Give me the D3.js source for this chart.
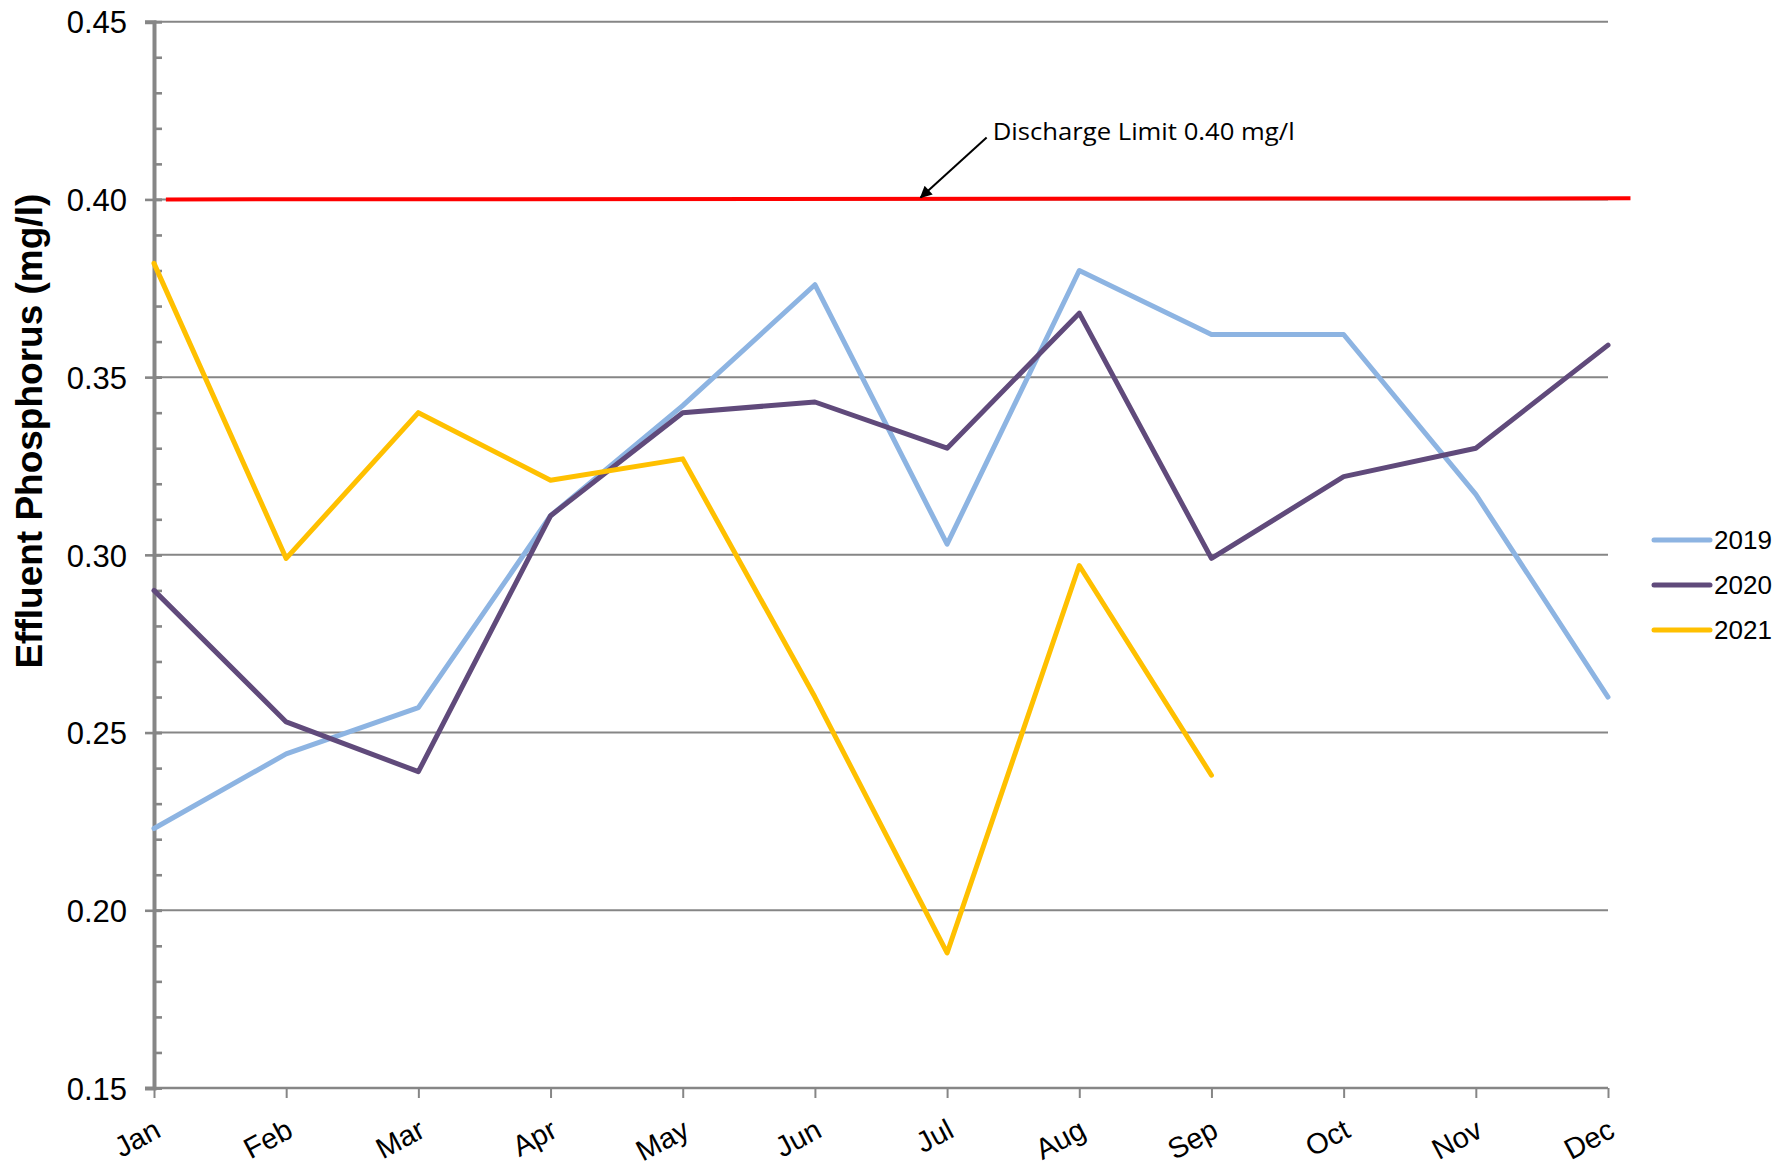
<!DOCTYPE html>
<html>
<head>
<meta charset="utf-8">
<script src="https://cdn.jsdelivr.net/npm/d3@7"></script>
<style>
  body { margin: 0; background: #fff; }
  svg { display: block; }
  .tick-label { font-family: "Liberation Sans", Arial, sans-serif; fill: #000; }
</style>
</head>
<body>
<div id="vis1"></div>
<script>
/*
effluent phosphorus chart
*/

const FRAME_WIDTH = 1791;
const FRAME_HEIGHT = 1170;
const MARGINS = {left: 154, right: 183, top: 21.7, bottom: 82};

// data
const months = ["Jan", "Feb", "Mar", "Apr", "May", "Jun", "Jul", "Aug", "Sep", "Oct", "Nov", "Dec"];
const series2019 = [0.223, 0.244, 0.257, 0.311, 0.342, 0.376, 0.303, 0.380, 0.362, 0.362, 0.317, 0.260];
const series2020 = [0.290, 0.253, 0.239, 0.311, 0.340, 0.343, 0.330, 0.368, 0.299, 0.322, 0.330, 0.359];
const series2021 = [0.382, 0.299, 0.340, 0.321, 0.327, 0.260, 0.188, 0.297, 0.238];
const seriesNames = ["2019", "2020", "2021"];
const seriesColors = ["#8DB4E2", "#604A7B", "#FFC000"];
const yTicks = [0.15, 0.20, 0.25, 0.30, 0.35, 0.40, 0.45];
const limitMonths = [0.09, 11.17];   // where the red limit line starts / ends (month index)
const limitValues = [0.400, 0.4003];
const limitLabel = "Discharge Limit 0.40 mg/l";
const yTitle = "Effluent Phosphorus (mg/l)";

const VIS_WIDTH = FRAME_WIDTH - MARGINS.left - MARGINS.right;
const VIS_HEIGHT = FRAME_HEIGHT - MARGINS.top - MARGINS.bottom;

const FRAME = d3.select("#vis1")
  .append("svg")
    .attr("width", FRAME_WIDTH)
    .attr("height", FRAME_HEIGHT);

// scales
const X_SCALE = d3.scaleLinear()
  .domain([0, months.length - 1])
  .range([MARGINS.left, MARGINS.left + VIS_WIDTH]);

const Y_SCALE = d3.scaleLinear()
  .domain([0.15, 0.45])
  .range([MARGINS.top + VIS_HEIGHT, MARGINS.top]);

// gridlines
FRAME.append("g")
  .selectAll("line")
  .data(yTicks.slice(1))
  .enter()
  .append("line")
    .attr("x1", MARGINS.left)
    .attr("x2", X_SCALE(months.length - 1))
    .attr("y1", d => Y_SCALE(d))
    .attr("y2", d => Y_SCALE(d))
    .attr("stroke", "#868686")
    .attr("stroke-width", 2);

// y axis with minor ticks
const minorTicks = d3.range(0.15, 0.4501, 0.01);
const yAxisMinor = d3.axisRight(Y_SCALE)
  .tickValues(minorTicks)
  .tickSize(8)
  .tickFormat("");
FRAME.append("g")
  .attr("transform", `translate(${MARGINS.left},0)`)
  .call(yAxisMinor)
  .call(g => g.select(".domain").remove())
  .call(g => g.selectAll("line").attr("stroke", "#868686").attr("stroke-width", 2.6));

const yAxis = d3.axisLeft(Y_SCALE)
  .tickValues(yTicks)
  .tickSize(9)
  .tickPadding(10)
  .tickFormat(d3.format(".2f"));
FRAME.append("g")
  .attr("transform", `translate(${MARGINS.left},0)`)
  .call(yAxis)
  .call(g => g.select(".domain").attr("stroke", "#868686").attr("stroke-width", 4))
  .call(g => g.selectAll(".tick line").attr("stroke", "#868686").attr("stroke-width", 2.6).attr("x2", 8).attr("x1", -9))
  .call(g => g.selectAll("text")
    .attr("class", "tick-label")
    .style("font-size", "31px")
    .attr("x", -27)
    .attr("dy", "0.36em"));

// x axis
const xAxis = d3.axisBottom(X_SCALE)
  .tickValues(d3.range(months.length))
  .tickSize(10)
  .tickFormat(i => months[i]);
FRAME.append("g")
  .attr("transform", `translate(0,${Y_SCALE(0.15)})`)
  .call(xAxis)
  .call(g => g.select(".domain").attr("stroke", "#868686").attr("stroke-width", 2.5).attr("d", `M${MARGINS.left},0H${X_SCALE(months.length - 1)}`))
  .call(g => g.selectAll(".tick line").attr("stroke", "#868686").attr("stroke-width", 2))
  .call(g => g.selectAll("text")
    .attr("class", "tick-label")
    .style("font-size", "29px")
    .attr("text-anchor", "end")
    .attr("y", 0)
    .attr("dy", 0)
    .attr("transform", "translate(8,48) rotate(-28)"));

// discharge limit
FRAME.append("line")
  .attr("x1", X_SCALE(limitMonths[0]))
  .attr("x2", X_SCALE(limitMonths[1]))
  .attr("y1", Y_SCALE(limitValues[0]))
  .attr("y2", Y_SCALE(limitValues[1]))
  .attr("stroke", "#FF0000")
  .attr("stroke-width", 4);

// data lines
const allSeries = [series2019, series2020, series2021];
const lineGen = d3.line()
  .x((d, i) => X_SCALE(i))
  .y(d => Y_SCALE(d));

FRAME.append("g")
  .selectAll("path")
  .data(allSeries)
  .enter()
  .append("path")
    .attr("d", d => lineGen(d))
    .attr("fill", "none")
    .attr("stroke", (d, i) => seriesColors[i])
    .attr("stroke-width", 5)
    .attr("stroke-linejoin", "round")
    .attr("stroke-linecap", "round");

// annotation with arrow
FRAME.append("defs").append("marker")
  .attr("id", "arrow")
  .attr("viewBox", "0 0 10 10")
  .attr("refX", 9)
  .attr("refY", 5)
  .attr("markerWidth", 15)
  .attr("markerHeight", 12)
  .attr("markerUnits", "userSpaceOnUse")
  .attr("orient", "auto")
  .append("path")
    .attr("d", "M0,0L10,5L0,10z")
    .attr("fill", "#000");

const arrowTip = [X_SCALE(5.8), Y_SCALE(limitValues[0]) - 2];
FRAME.append("line")
  .attr("x1", arrowTip[0] + 66)
  .attr("y1", arrowTip[1] - 60)
  .attr("x2", arrowTip[0])
  .attr("y2", arrowTip[1])
  .attr("stroke", "#000")
  .attr("stroke-width", 2)
  .attr("marker-end", "url(#arrow)");

FRAME.append("text")
  .attr("x", arrowTip[0] + 72)
  .attr("y", arrowTip[1] - 57)
  .attr("font-family", "'Open Sans', 'Noto Sans', sans-serif")
  .attr("font-size", 23)
  .attr("textLength", 302)
  .attr("lengthAdjust", "spacingAndGlyphs")
  .text(limitLabel);

// y title
FRAME.append("text")
  .attr("transform", `translate(42,${MARGINS.top + VIS_HEIGHT * 0.384}) rotate(-90)`)
  .attr("text-anchor", "middle")
  .attr("font-family", "'Liberation Sans', Arial, sans-serif")
  .attr("font-weight", "bold")
  .attr("font-size", 37)
  .text(yTitle);

// legend
const legend = FRAME.append("g")
  .selectAll("g")
  .data(seriesNames)
  .enter()
  .append("g")
    .attr("transform", (d, i) => `translate(1654,${540 + i * 45})`);
legend.append("line")
  .attr("x1", 0)
  .attr("x2", 56)
  .attr("stroke", (d, i) => seriesColors[i])
  .attr("stroke-width", 5)
  .attr("stroke-linecap", "round");
legend.append("text")
  .attr("x", 60)
  .attr("dy", "0.36em")
  .attr("class", "tick-label")
  .style("font-size", "26px")
  .text(d => d);
</script>
</body>
</html>
